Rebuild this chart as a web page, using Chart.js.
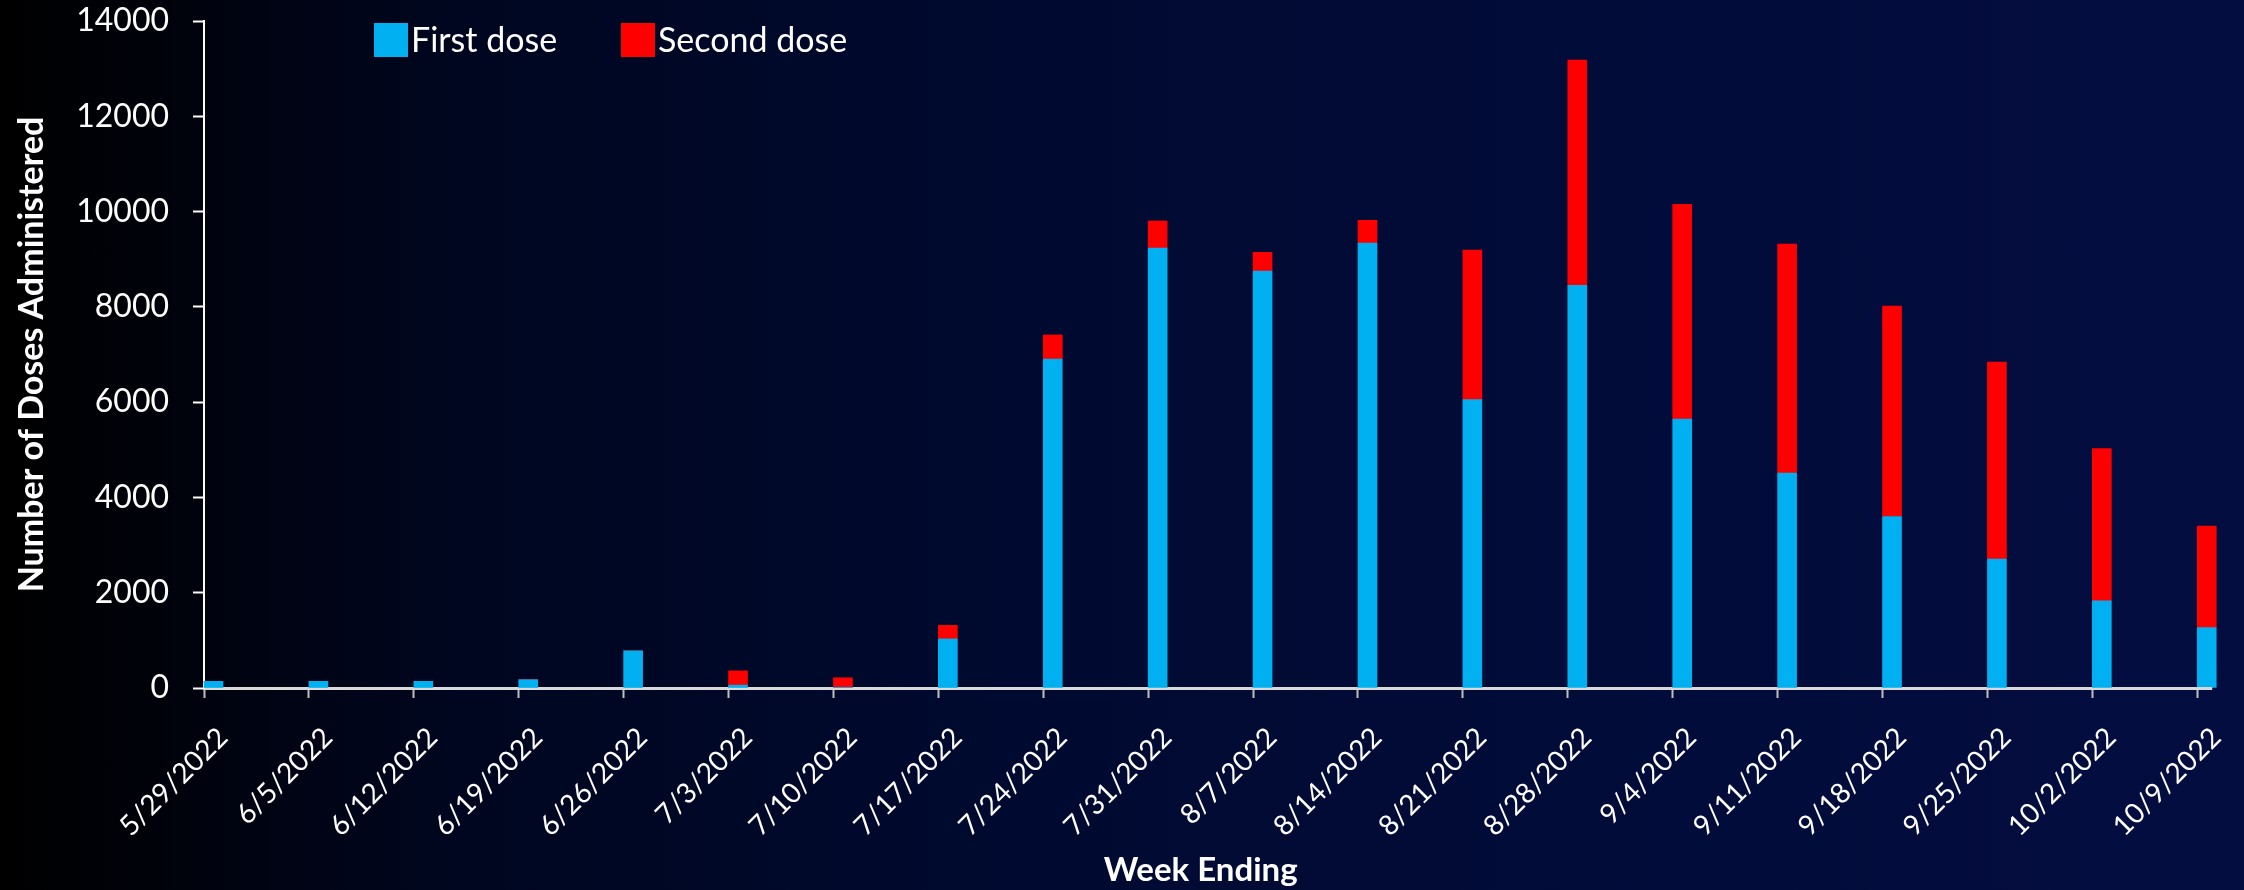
<!DOCTYPE html>
<html>
<head>
<meta charset="utf-8">
<script src="https://cdn.jsdelivr.net/npm/chart.js@4"></script>
<style>
  html, body { margin: 0; padding: 0; }
  body { background: linear-gradient(to right, #000000 0%, #00061f 20%, #000a30 45%, #020c3a 75%, #040d40 100%); }
  #wrap { width: 2244px; height: 890px; position: relative; }
</style>
</head>
<body>
<div id="wrap"><canvas id="doses-chart"></canvas></div>
<script>
// week ending dates
const weeks = ['5/29/2022','6/5/2022','6/12/2022','6/19/2022','6/26/2022','7/3/2022','7/10/2022',
               '7/17/2022','7/24/2022','7/31/2022','8/7/2022','8/14/2022','8/21/2022','8/28/2022',
               '9/4/2022','9/11/2022','9/18/2022','9/25/2022','10/2/2022','10/9/2022'];

const firstDose = [140, 140, 140, 175, 780, 60, 15, 1030, 6906, 9236, 8753, 9341,
                   6052, 8452, 5646, 4513, 3600, 2708, 1832, 1266];
const secondDose = [0, 0, 0, 0, 0, 300, 200, 285, 504, 566, 392, 476,
                    3142, 4730, 4507, 4807, 4418, 4131, 3195, 2134];

const yTicks = [0, 2000, 4000, 6000, 8000, 10000, 12000, 14000];

// legend like in the excel chart (boxes close to the text)
const doseLegend = {
  id: 'doseLegend',
  afterDraw(chart) {
    const ctx = chart.ctx;
    const items = chart.data.datasets.filter(d => d.label);
    let x = 374;
    ctx.save();
    ctx.font = '34px Lato';
    ctx.textBaseline = 'middle';
    ctx.textAlign = 'left';
    items.forEach(d => {
      ctx.fillStyle = d.backgroundColor;
      ctx.fillRect(x, 23, 34, 34);
      ctx.fillStyle = '#ffffff';
      ctx.fillText(d.label, x + 37, 41);
      x += 247;
    });
    ctx.restore();
  }
};

// excel draws the x axis line a bit past the last bar
const axisTail = {
  id: 'axisTail',
  afterDraw(chart) {
    const { ctx, chartArea } = chart;
    ctx.save();
    ctx.strokeStyle = '#d9d9d9';
    ctx.lineWidth = 3;
    ctx.beginPath();
    ctx.moveTo(chartArea.right, chartArea.bottom + 0.5);
    ctx.lineTo(chartArea.right + 15, chartArea.bottom + 0.5);
    ctx.stroke();
    ctx.restore();
  }
};

const ctx = document.getElementById('doses-chart');

new Chart(ctx, {
  type: 'bar',
  data: {
    labels: weeks,
    datasets: [
      {
        // empty stack so the bars sit right of the tick
        label: '',
        data: [],
        stack: 'pad',
        barThickness: 19
      },
      {
        label: 'First dose',
        data: firstDose,
        backgroundColor: '#00b0f0',
        stack: 'doses',
        barThickness: 19,
        clip: false
      },
      {
        label: 'Second dose',
        data: secondDose,
        backgroundColor: '#ff0000',
        stack: 'doses',
        barThickness: 19,
        clip: false
      }
    ]
  },
  options: {
    responsive: true,
    maintainAspectRatio: false,
    animation: false,
    layout: { padding: { top: 21, right: 44, bottom: 0, left: 0 } },
    plugins: {
      legend: { display: false },
      tooltip: { enabled: false }
    },
    scales: {
      x: {
        stacked: true,
        offset: false,
        afterFit: s => { s.height = 202; },
        grid: {
          offset: false,
          drawOnChartArea: false,
          drawTicks: true,
          tickLength: 10,
          tickColor: '#bfbfbf',
          tickWidth: 2
        },
        border: { display: true, color: '#d9d9d9', width: 3 },
        ticks: {
          color: '#ffffff',
          font: { family: 'Lato', size: 28 },
          minRotation: 45,
          maxRotation: 45,
          autoSkip: false,
          padding: 23,
          labelOffset: 19
        },
        title: {
          display: true,
          text: 'Week Ending',
          color: '#ffffff',
          font: { family: 'Lato', size: 33, weight: 'bold' },
          padding: { top: 0, bottom: 0 }
        }
      },
      y: {
        stacked: true,
        min: 0,
        max: 14000,
        afterFit: s => { s.width = 204; s.paddingTop = 0; },
        afterBuildTicks: s => { s.ticks = yTicks.map(v => ({ value: v })); },
        grid: {
          drawOnChartArea: false,
          drawTicks: true,
          tickLength: 11,
          tickColor: '#ffffff',
          tickWidth: 2
        },
        border: { display: true, color: '#ffffff', width: 2 },
        ticks: {
          color: '#ffffff',
          font: { family: 'Lato', size: 32 },
          padding: 24,
          callback: v => v
        },
        title: {
          display: true,
          text: 'Number of Doses Administered',
          color: '#ffffff',
          font: { family: 'Lato', size: 34, weight: 'bold' },
          padding: { top: 12, bottom: 0 }
        }
      }
    }
  },
  plugins: [doseLegend, axisTail]
});
</script>
</body>
</html>
